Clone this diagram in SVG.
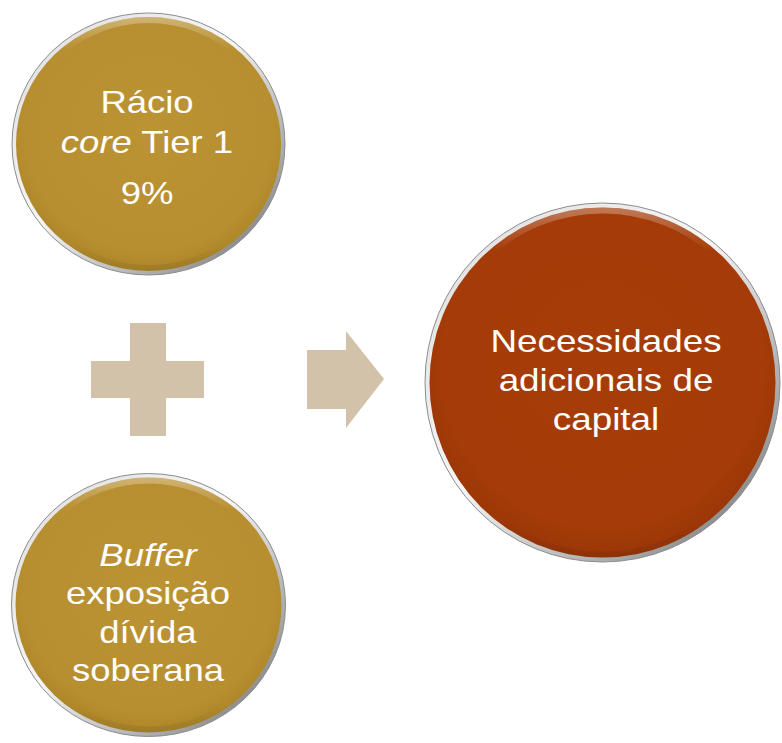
<svg xmlns="http://www.w3.org/2000/svg" width="782" height="743" viewBox="0 0 782 743">
  <defs>
    <linearGradient id="ring" x1="0" y1="0" x2="1" y2="1">
      <stop offset="0" stop-color="#dcdcdc"/>
      <stop offset="0.45" stop-color="#f6f6f6"/>
      <stop offset="0.8" stop-color="#a0a0a0"/>
      <stop offset="1" stop-color="#606060"/>
    </linearGradient>
    <radialGradient id="gold" cx="0.5" cy="0.45" r="0.55">
      <stop offset="0" stop-color="#BB9333"/>
      <stop offset="0.85" stop-color="#B88F30"/>
      <stop offset="1" stop-color="#AD8629"/>
    </radialGradient>
    <radialGradient id="red" cx="0.5" cy="0.45" r="0.55">
      <stop offset="0" stop-color="#A63D09"/>
      <stop offset="0.85" stop-color="#A43B08"/>
      <stop offset="1" stop-color="#9A3607"/>
    </radialGradient>
    <linearGradient id="bevel" x1="0" y1="0" x2="0" y2="1">
      <stop offset="0" stop-color="#ffffff" stop-opacity="0.3"/>
      <stop offset="0.12" stop-color="#ffffff" stop-opacity="0"/>
      <stop offset="0.9" stop-color="#000000" stop-opacity="0"/>
      <stop offset="1" stop-color="#000000" stop-opacity="0.08"/>
    </linearGradient>
  </defs>
  <style>
    .ring { fill: url(#ring); stroke: #8c8c8c; stroke-width: 1; }
    .gold { fill: url(#gold); }
    .red { fill: url(#red); }
    .bev { fill: none; stroke: url(#bevel); stroke-width: 6; }
    .lbl { font-family: "Liberation Sans", Arial, sans-serif; font-size: 32px; fill: #ffffff; text-anchor: middle; }
    .it { font-style: italic; }
    .sym { fill: #D3C2AA; }
  </style>

  <g id="node-racio">
    <ellipse class="ring" cx="148.5" cy="144" rx="136.5" ry="131"/>
    <ellipse class="gold" cx="148.5" cy="144" rx="132.5" ry="127"/>
    <ellipse class="bev" cx="148.5" cy="144" rx="129.5" ry="124"/>
    <g transform="translate(147 0) scale(1.14 1)">
      <text class="lbl" x="0" y="113">Rácio</text>
      <text class="lbl" x="0" y="153"><tspan class="it">core</tspan> Tier 1</text>
      <text class="lbl" x="0" y="204">9%</text>
    </g>
  </g>

  <g id="node-buffer">
    <ellipse class="ring" cx="148.5" cy="605" rx="137" ry="131.5"/>
    <ellipse class="gold" cx="148.5" cy="605" rx="133" ry="127.5"/>
    <ellipse class="bev" cx="148.5" cy="605" rx="130" ry="124.5"/>
    <g transform="translate(148 0) scale(1.14 1)">
      <text class="lbl it" x="0" y="566">Buffer</text>
      <text class="lbl" x="0" y="604">exposição</text>
      <text class="lbl" x="0" y="643">dívida</text>
      <text class="lbl" x="0" y="681">soberana</text>
    </g>
  </g>

  <g id="node-necessidades">
    <ellipse class="ring" cx="602.5" cy="382.5" rx="177.5" ry="179.5"/>
    <ellipse class="red" cx="602.5" cy="382.5" rx="173" ry="175"/>
    <ellipse class="bev" cx="602.5" cy="382.5" rx="170" ry="172"/>
    <g transform="translate(606 0) scale(1.15 1)">
      <text class="lbl" x="0" y="352">Necessidades</text>
      <text class="lbl" x="0" y="391">adicionais de</text>
      <text class="lbl" x="0" y="430">capital</text>
    </g>
  </g>

  <g id="connectors">
    <path id="plus" class="sym" d="M130 323 H166 V361 H204 V398 H166 V436 H130 V398 H91 V361 H130 Z"/>
    <path id="arrow" class="sym" d="M307 350 H346 V331 L384 379 L346 428 V409 H307 Z"/>
  </g>
</svg>
